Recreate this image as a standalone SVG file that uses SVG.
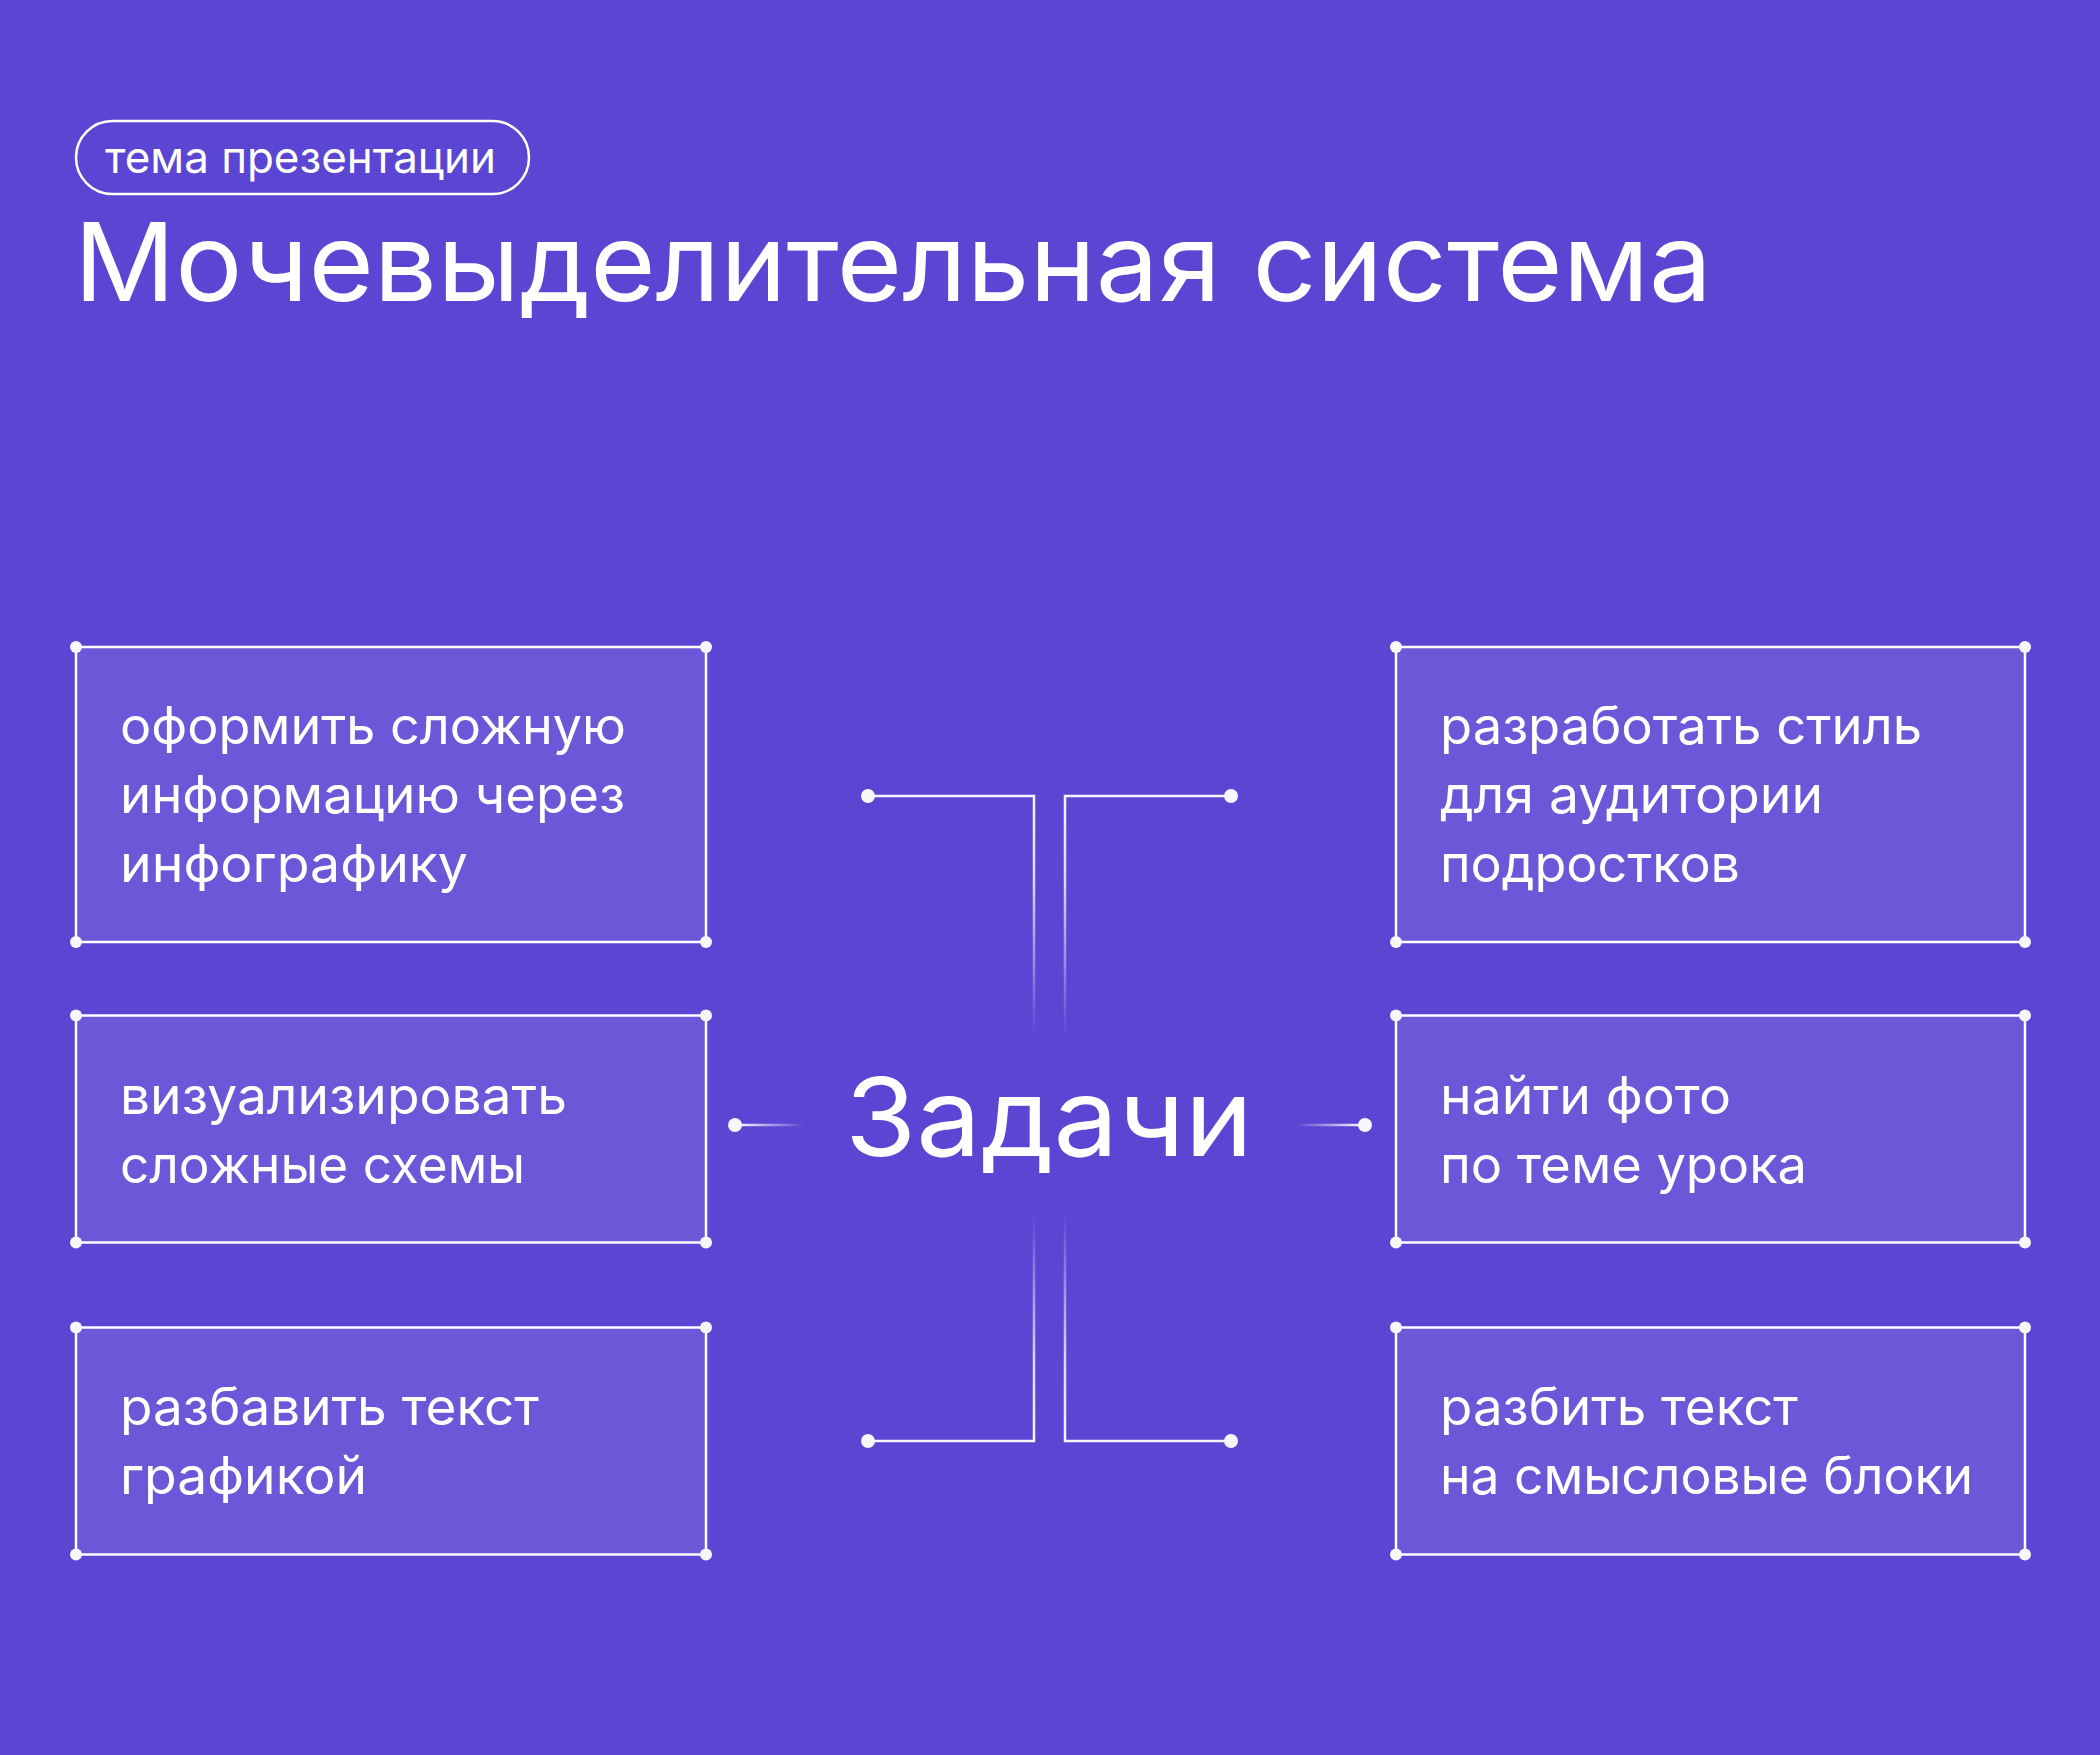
<svg xmlns="http://www.w3.org/2000/svg" width="2100" height="1755" viewBox="0 0 2100 1755">
  <defs>
    <linearGradient id="gTop" gradientUnits="userSpaceOnUse" x1="0" y1="796" x2="0" y2="1036">
      <stop offset="0" stop-color="#ffffff" stop-opacity="0.95"/>
      <stop offset="0.35" stop-color="#ffffff" stop-opacity="0.8"/>
      <stop offset="1" stop-color="#ffffff" stop-opacity="0"/>
    </linearGradient>
    <linearGradient id="gBot" gradientUnits="userSpaceOnUse" x1="0" y1="1441" x2="0" y2="1213">
      <stop offset="0" stop-color="#ffffff" stop-opacity="0.95"/>
      <stop offset="0.35" stop-color="#ffffff" stop-opacity="0.8"/>
      <stop offset="1" stop-color="#ffffff" stop-opacity="0"/>
    </linearGradient>
    <linearGradient id="gMidL" gradientUnits="userSpaceOnUse" x1="735" y1="0" x2="805" y2="0">
      <stop offset="0" stop-color="#ffffff" stop-opacity="1"/>
      <stop offset="1" stop-color="#ffffff" stop-opacity="0"/>
    </linearGradient>
    <linearGradient id="gMidR" gradientUnits="userSpaceOnUse" x1="1365" y1="0" x2="1295" y2="0">
      <stop offset="0" stop-color="#ffffff" stop-opacity="1"/>
      <stop offset="1" stop-color="#ffffff" stop-opacity="0"/>
    </linearGradient>
  </defs>
  <style>
    .bg { fill: #5B45D3; }
    .box { fill: #ffffff; fill-opacity: 0.1; stroke: #ffffff; stroke-width: 2.5; }
    .dot { fill: #F7F6FB; }
    .txt { font-family: Inter, "Noto Sans", "Liberation Sans", sans-serif; fill: #ffffff; }
    .item { font-size: 52px; font-weight: 400; }
    .big { font-size: 108px; font-weight: 400; }
    .tag { font-size: 44px; font-weight: 400; }
    .conn { fill: none; stroke-width: 2.5; }
  </style>

  <rect class="bg" x="0" y="0" width="2100" height="1755"/>

  <g id="header">
    <rect x="76" y="121" width="453" height="73" rx="36.5" ry="36.5" fill="none" stroke="#ffffff" stroke-width="2.5"/>
    <text class="txt tag" x="105" y="173" textLength="391" lengthAdjust="spacingAndGlyphs">тема презентации</text>
    <text class="txt big" x="74" y="301" textLength="1638" lengthAdjust="spacingAndGlyphs">Мочевыделительная система</text>
  </g>

  <g id="connectors">
    <path class="conn" d="M868,796 H1034 V1036" stroke="url(#gTop)"/>
    <path class="conn" d="M1231,796 H1065 V1036" stroke="url(#gTop)"/>
    <path class="conn" d="M868,1441 H1034 V1213" stroke="url(#gBot)"/>
    <path class="conn" d="M1231,1441 H1065 V1213" stroke="url(#gBot)"/>
    <path class="conn" d="M735,1125 H805" stroke="url(#gMidL)"/>
    <path class="conn" d="M1365,1125 H1295" stroke="url(#gMidR)"/>
    <circle class="dot" cx="868" cy="796" r="7"/>
    <circle class="dot" cx="1231" cy="796" r="7"/>
    <circle class="dot" cx="868" cy="1441" r="7"/>
    <circle class="dot" cx="1231" cy="1441" r="7"/>
    <circle class="dot" cx="735" cy="1125" r="7"/>
    <circle class="dot" cx="1365" cy="1125" r="7"/>
  </g>

  <g id="center">
    <text class="txt big" x="845" y="1156" textLength="408" lengthAdjust="spacingAndGlyphs">Задачи</text>
  </g>

  <g id="task1">
    <rect class="box" x="76" y="647" width="630" height="295"/>
    <circle class="dot" cx="76" cy="647" r="6"/><circle class="dot" cx="706" cy="647" r="6"/>
    <circle class="dot" cx="76" cy="942" r="6"/><circle class="dot" cx="706" cy="942" r="6"/>
    <text class="txt item" x="120" y="744" textLength="506" lengthAdjust="spacingAndGlyphs">оформить сложную</text>
    <text class="txt item" x="120" y="813" textLength="505" lengthAdjust="spacingAndGlyphs">информацию через</text>
    <text class="txt item" x="120" y="882" textLength="348" lengthAdjust="spacingAndGlyphs">инфографику</text>
  </g>

  <g id="task2">
    <rect class="box" x="76" y="1015.5" width="630" height="227"/>
    <circle class="dot" cx="76" cy="1015.5" r="6"/><circle class="dot" cx="706" cy="1015.5" r="6"/>
    <circle class="dot" cx="76" cy="1242.5" r="6"/><circle class="dot" cx="706" cy="1242.5" r="6"/>
    <text class="txt item" x="120" y="1114" textLength="447" lengthAdjust="spacingAndGlyphs">визуализировать</text>
    <text class="txt item" x="120" y="1183" textLength="405" lengthAdjust="spacingAndGlyphs">сложные схемы</text>
  </g>

  <g id="task3">
    <rect class="box" x="76" y="1327.5" width="630" height="227"/>
    <circle class="dot" cx="76" cy="1327.5" r="6"/><circle class="dot" cx="706" cy="1327.5" r="6"/>
    <circle class="dot" cx="76" cy="1554.5" r="6"/><circle class="dot" cx="706" cy="1554.5" r="6"/>
    <text class="txt item" x="120" y="1425" textLength="419" lengthAdjust="spacingAndGlyphs">разбавить текст</text>
    <text class="txt item" x="120" y="1494" textLength="247" lengthAdjust="spacingAndGlyphs">графикой</text>
  </g>

  <g id="task4">
    <rect class="box" x="1396" y="647" width="629" height="295"/>
    <circle class="dot" cx="1396" cy="647" r="6"/><circle class="dot" cx="2025" cy="647" r="6"/>
    <circle class="dot" cx="1396" cy="942" r="6"/><circle class="dot" cx="2025" cy="942" r="6"/>
    <text class="txt item" x="1440" y="744" textLength="482" lengthAdjust="spacingAndGlyphs">разработать стиль</text>
    <text class="txt item" x="1440" y="813" textLength="383" lengthAdjust="spacingAndGlyphs">для аудитории</text>
    <text class="txt item" x="1440" y="882" textLength="300" lengthAdjust="spacingAndGlyphs">подростков</text>
  </g>

  <g id="task5">
    <rect class="box" x="1396" y="1015.5" width="629" height="227"/>
    <circle class="dot" cx="1396" cy="1015.5" r="6"/><circle class="dot" cx="2025" cy="1015.5" r="6"/>
    <circle class="dot" cx="1396" cy="1242.5" r="6"/><circle class="dot" cx="2025" cy="1242.5" r="6"/>
    <text class="txt item" x="1440" y="1114" textLength="291" lengthAdjust="spacingAndGlyphs">найти фото</text>
    <text class="txt item" x="1440" y="1183" textLength="367" lengthAdjust="spacingAndGlyphs">по теме урока</text>
  </g>

  <g id="task6">
    <rect class="box" x="1396" y="1327.5" width="629" height="227"/>
    <circle class="dot" cx="1396" cy="1327.5" r="6"/><circle class="dot" cx="2025" cy="1327.5" r="6"/>
    <circle class="dot" cx="1396" cy="1554.5" r="6"/><circle class="dot" cx="2025" cy="1554.5" r="6"/>
    <text class="txt item" x="1440" y="1425" textLength="358" lengthAdjust="spacingAndGlyphs">разбить текст</text>
    <text class="txt item" x="1440" y="1494" textLength="533" lengthAdjust="spacingAndGlyphs">на смысловые блоки</text>
  </g>
</svg>
